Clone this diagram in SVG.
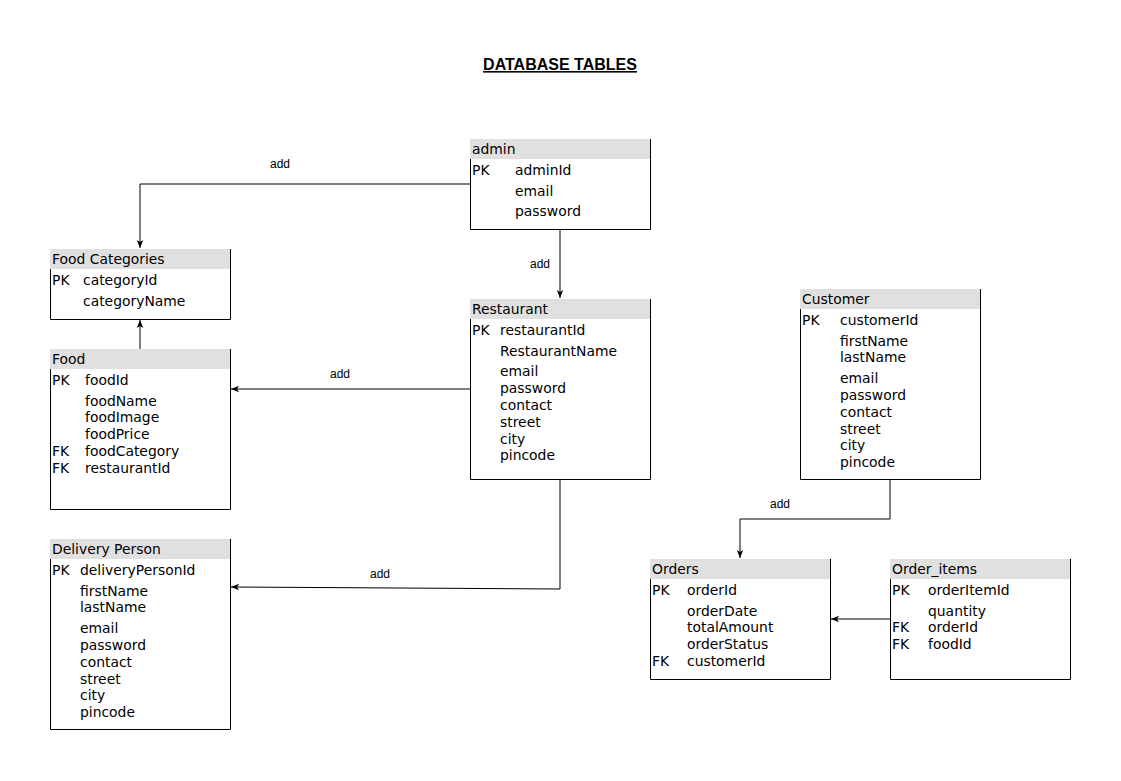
<svg xmlns="http://www.w3.org/2000/svg" width="1121" height="781" viewBox="0 0 1121 781">
<style>
.hd{fill:#e0e0e0;stroke:none}
.bd{fill:none;stroke:#000;stroke-width:1}
.t{font-family:"DejaVu Sans","Liberation Sans",sans-serif;font-size:13.9px;fill:#000}
.lbl{font-family:"Liberation Sans",Arial,sans-serif;font-size:12px;fill:#000;text-anchor:middle}
.ttl{font-family:"Liberation Sans",Arial,sans-serif;font-size:16px;font-weight:bold;fill:#000;text-anchor:middle;text-decoration:underline}
.c{fill:none;stroke:#000;stroke-width:1}
</style>
<defs>
<marker id="ah" viewBox="0 0 10 10" refX="10" refY="5" markerWidth="8" markerHeight="8" markerUnits="userSpaceOnUse" orient="auto">
<path d="M0,1 L10,5 L0,9 L2.5,5 Z" fill="#000"/>
</marker>
</defs>
<rect width="1121" height="781" fill="#fff"/>
<text class="ttl" x="560" y="70">DATABASE TABLES</text>

<g id="connectors">
<path class="c" d="M470,184 H140 V248" marker-end="url(#ah)"/>
<path class="c" d="M560,229 V298" marker-end="url(#ah)"/>
<path class="c" d="M140,349 V320" marker-end="url(#ah)"/>
<path class="c" d="M470,389 H231" marker-end="url(#ah)"/>
<path class="c" d="M560,479 V589 L231,587" marker-end="url(#ah)"/>
<path class="c" d="M890,479 V519 H740 V558" marker-end="url(#ah)"/>
<path class="c" d="M890,619 H831" marker-end="url(#ah)"/>
<text class="lbl" x="280" y="168">add</text>
<text class="lbl" x="540" y="268">add</text>
<text class="lbl" x="340" y="378">add</text>
<text class="lbl" x="380" y="578">add</text>
<text class="lbl" x="780" y="508">add</text>
</g>

<g id="admin">
<rect class="hd" x="470" y="139" width="180" height="20"/>
<path class="bd" d="M470.5,159 V229.5 H650.5 V139"/>
<text class="t" x="472" y="154">admin</text>
<text class="t" x="472" y="175">PK</text><text class="t" x="515" y="175">adminId</text>
<text class="t" x="515" y="196">email</text>
<text class="t" x="515" y="216">password</text>
</g>

<g id="food-categories">
<rect class="hd" x="50" y="249" width="180" height="20"/>
<path class="bd" d="M50.5,269 V319.5 H230.5 V249"/>
<text class="t" x="52" y="264">Food Categories</text>
<text class="t" x="52" y="285">PK</text><text class="t" x="83" y="285">categoryId</text>
<text class="t" x="83" y="306">categoryName</text>
</g>

<g id="food">
<rect class="hd" x="50" y="349" width="180" height="20"/>
<path class="bd" d="M50.5,369 V509.5 H230.5 V349"/>
<text class="t" x="52" y="364">Food</text>
<text class="t" x="52" y="385">PK</text><text class="t" x="85" y="385">foodId</text>
<text class="t" x="85" y="406">foodName</text>
<text class="t" x="85" y="422">foodImage</text>
<text class="t" x="85" y="439">foodPrice</text>
<text class="t" x="52" y="456">FK</text><text class="t" x="85" y="456">foodCategory</text>
<text class="t" x="52" y="473">FK</text><text class="t" x="85" y="473">restaurantId</text>
</g>

<g id="delivery-person">
<rect class="hd" x="50" y="539" width="180" height="20"/>
<path class="bd" d="M50.5,559 V729.5 H230.5 V539"/>
<text class="t" x="52" y="554">Delivery Person</text>
<text class="t" x="52" y="575">PK</text><text class="t" x="80" y="575">deliveryPersonId</text>
<text class="t" x="80" y="596">firstName</text>
<text class="t" x="80" y="612">lastName</text>
<text class="t" x="80" y="633">email</text>
<text class="t" x="80" y="650">password</text>
<text class="t" x="80" y="667">contact</text>
<text class="t" x="80" y="684">street</text>
<text class="t" x="80" y="700">city</text>
<text class="t" x="80" y="717">pincode</text>
</g>

<g id="restaurant">
<rect class="hd" x="470" y="299" width="180" height="20"/>
<path class="bd" d="M470.5,319 V479.5 H650.5 V299"/>
<text class="t" x="472" y="314">Restaurant</text>
<text class="t" x="472" y="335">PK</text><text class="t" x="500" y="335">restaurantId</text>
<text class="t" x="500" y="356">RestaurantName</text>
<text class="t" x="500" y="376">email</text>
<text class="t" x="500" y="393">password</text>
<text class="t" x="500" y="410">contact</text>
<text class="t" x="500" y="427">street</text>
<text class="t" x="500" y="444">city</text>
<text class="t" x="500" y="460">pincode</text>
</g>

<g id="customer">
<rect class="hd" x="800" y="289" width="180" height="20"/>
<path class="bd" d="M800.5,309 V479.5 H980.5 V289"/>
<text class="t" x="802" y="304">Customer</text>
<text class="t" x="802" y="325">PK</text><text class="t" x="840" y="325">customerId</text>
<text class="t" x="840" y="346">firstName</text>
<text class="t" x="840" y="362">lastName</text>
<text class="t" x="840" y="383">email</text>
<text class="t" x="840" y="400">password</text>
<text class="t" x="840" y="417">contact</text>
<text class="t" x="840" y="434">street</text>
<text class="t" x="840" y="450">city</text>
<text class="t" x="840" y="467">pincode</text>
</g>

<g id="orders">
<rect class="hd" x="650" y="559" width="180" height="20"/>
<path class="bd" d="M650.5,579 V679.5 H830.5 V559"/>
<text class="t" x="652" y="574">Orders</text>
<text class="t" x="652" y="595">PK</text><text class="t" x="687" y="595">orderId</text>
<text class="t" x="687" y="616">orderDate</text>
<text class="t" x="687" y="632">totalAmount</text>
<text class="t" x="687" y="649">orderStatus</text>
<text class="t" x="652" y="666">FK</text><text class="t" x="687" y="666">customerId</text>
</g>

<g id="order-items">
<rect class="hd" x="890" y="559" width="180" height="20"/>
<path class="bd" d="M890.5,579 V679.5 H1070.5 V559"/>
<text class="t" x="892" y="574">Order_items</text>
<text class="t" x="892" y="595">PK</text><text class="t" x="928" y="595">orderItemId</text>
<text class="t" x="928" y="616">quantity</text>
<text class="t" x="892" y="632">FK</text><text class="t" x="928" y="632">orderId</text>
<text class="t" x="892" y="649">FK</text><text class="t" x="928" y="649">foodId</text>
</g>
</svg>
